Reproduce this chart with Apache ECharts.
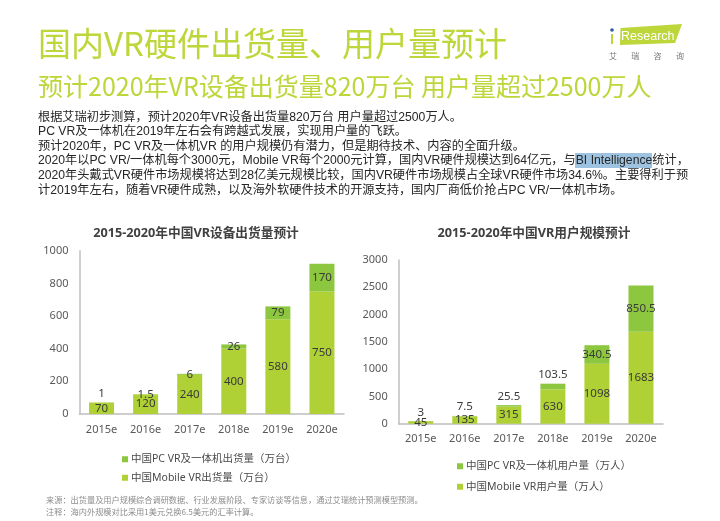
<!DOCTYPE html>
<html><head><meta charset="utf-8">
<style>html,body{margin:0;padding:0;background:#fff}#c{width:720px;height:521px}</style>
<script src="https://cdn.jsdelivr.net/npm/echarts@6/dist/echarts.min.js"></script>
</head><body><div id="c"></div>
<script>
const categories=['2015e','2016e','2017e','2018e','2019e','2020e'];
const shipMobile=[70,120,240,400,580,750];
const shipPC=[1,1.5,6,26,79,170];
const userMobile=[45,135,315,630,1098,1683];
const userPC=[3,7.5,25.5,103.5,340.5,850.5];
const shipOutside=[0];
const userOutside=[0,1,2,3];
const shipTitle='2015-2020年中国VR设备出货量预计';
const userTitle='2015-2020年中国VR用户规模预计';
const shipNames=['中国PC VR及一体机出货量（万台）','中国Mobile VR出货量（万台）'];
const userNames=['中国PC VR及一体机用户量（万人）','中国Mobile VR用户量（万人）'];
const bodyLines=[
 '根据艾瑞初步测算，预计2020年VR设备出货量820万台 用户量超过2500万人。',
 'PC VR及一体机在2019年左右会有跨越式发展，实现用户量的飞跃。',
 '预计2020年，PC VR及一体机VR 的用户规模仍有潜力，但是期待技术、内容的全面升级。',
 '2020年以PC VR/一体机每个3000元，Mobile VR每个2000元计算，国内VR硬件规模达到64亿元，与BI Intelligence统计，',
 '2020年头戴式VR硬件市场规模将达到28亿美元规模比较，国内VR硬件市场规模占全球VR硬件市场34.6%。主要得利于预',
 '计2019年左右，随着VR硬件成熟，以及海外软硬件技术的开源支持，国内厂商低价抢占PC VR/一体机市场。'];
const logoChars=['艾','瑞','咨','询'];
const CJK='"Noto Sans CJK SC"';
const LAT='"Noto Sans","Open Sans",'+CJK;
const LIME='#AFD135', GREEN='#8DC63F', AXC='#BFBFBF';
const chart=echarts.init(document.getElementById('c'),null,{renderer:'canvas'});
function txt(x,y,text,size,color,extra){return {type:'text',x,y,silent:true,style:Object.assign({text,fontSize:size,fill:color,fontFamily:'"Liberation Sans",'+CJK,verticalAlign:'middle'},extra||{})};}
function series(name,data,i,stack,color,outside){
 return {type:'bar',name,xAxisIndex:i,yAxisIndex:i,stack,barWidth:25,itemStyle:{color},
  data:data.map((v,k)=>({value:v,label:{position:(outside&&outside.includes(k))?'top':'inside',distance:3}})),
  label:{show:true,color:'#3a3a3a',fontSize:11.5,fontFamily:LAT},emphasis:{disabled:true}};
}
const xa=i=>({type:'category',gridIndex:i,data:categories,axisTick:{show:false},axisLine:{lineStyle:{color:AXC,width:1.5}},axisLabel:{color:'#595959',fontSize:11,margin:10,fontFamily:LAT,interval:0}});
const ya=(i,max,iv)=>({type:'value',gridIndex:i,min:0,max,interval:iv,splitLine:{show:false},axisTick:{show:false},axisLine:{show:true,lineStyle:{color:AXC,width:1.5}},axisLabel:{color:'#595959',fontSize:11,margin:11,fontFamily:LAT,formatter:v=>String(v)}});
const legend=(names,left,top,gap)=>({orient:'vertical',left,top,itemWidth:6,itemHeight:6,itemGap:gap,icon:'rect',selectedMode:false,data:names,textStyle:{color:'#4a4a4a',fontSize:10.5,fontFamily:LAT,padding:[0,0,0,-2]}});
chart.setOption({
 animation:false,
 title:[
  {text:shipTitle,left:191,top:222,textAlign:'center',textStyle:{fontSize:12.7,fontWeight:'bold',color:'#404040',fontFamily:LAT}},
  {text:userTitle,left:529,top:222,textAlign:'center',textStyle:{fontSize:12.7,fontWeight:'bold',color:'#404040',fontFamily:LAT}}
 ],
 grid:[
  {left:79.5,right:376,top:250.7,bottom:107},
  {left:398.7,right:57,top:260,bottom:97.3}
 ],
 xAxis:[xa(0),xa(1)],
 yAxis:[ya(0,1000,200),ya(1,3000,500)],
 legend:[legend(shipNames,117,449,8),legend(userNames,452,456,10)],
 series:[
  series(shipNames[1],shipMobile,0,'a',LIME),
  series(shipNames[0],shipPC,0,'a',GREEN,shipOutside),
  series(userNames[1],userMobile,1,'b',LIME),
  series(userNames[0],userPC,1,'b',GREEN,userOutside)
 ],
 graphic:[
  txt(38,43,'国内VR硬件出货量、用户量预计',33,'#BDD63A',{fontFamily:CJK}),
  txt(38,86,'预计2020年VR设备出货量820万台 用户量超过2500万人',25,'#BDD63A',{fontFamily:CJK}),
  {type:'rect',silent:true,shape:{x:575,y:153,width:77,height:15},style:{fill:'#9DC3E0'}},
  ...bodyLines.map((t,i)=>txt(38,[118,132,147,161,176,191][i],t,12.2,'#262626')),
  {type:'polygon',silent:true,shape:{points:[[620.5,28],[682,24],[675,43],[620,45]]},style:{fill:'#BDD63A'}},
  {type:'circle',silent:true,shape:{cx:612,cy:30,r:1.8},style:{fill:'#2A5CAA'}},
  {type:'rect',silent:true,shape:{x:611,y:34,width:2,height:10},style:{fill:'#BDD63A'}},
  txt(621,37,'Research',12.5,'#fff',{fontFamily:'"Liberation Sans"'}),
  ...logoChars.map((c,i)=>txt(609+i*22.3,56,c,8,'#777',{fontFamily:CJK})),
  txt(46,500,'来源：出货量及用户规模综合调研数据、行业发展阶段、专家访谈等信息，通过艾瑞统计预测模型预测。',8.2,'#8c8c8c',{fontFamily:CJK}),
  txt(46,512,'注释：海内外规模对比采用1美元兑换6.5美元的汇率计算。',8.2,'#8c8c8c',{fontFamily:CJK})
 ]
});
</script></body></html>
